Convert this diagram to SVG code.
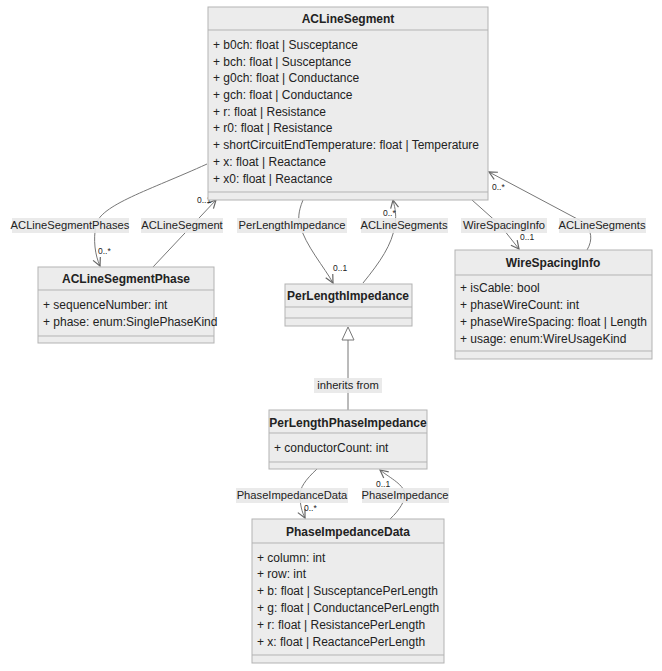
<svg xmlns="http://www.w3.org/2000/svg" width="662" height="671" viewBox="0 0 662 671">
<defs>
<style>
.box{fill:#ececec;stroke:#b3b3b3;stroke-width:1}
.div{stroke:#b3b3b3;stroke-width:1}
.title{font-family:"Liberation Sans",Arial,sans-serif;font-size:12px;font-weight:bold;fill:#222;text-anchor:middle}
.attr{font-family:"Liberation Sans",Arial,sans-serif;font-size:12px;fill:#222}
.edge{fill:none;stroke:#777;stroke-width:1}
.lbg{fill:#e8e8e8;opacity:0.9}
.lbl{font-family:"Liberation Sans",Arial,sans-serif;font-size:11.2px;fill:#222;text-anchor:middle}
.mult{font-family:"Liberation Sans",Arial,sans-serif;font-size:8.5px;fill:#222}
</style>
<marker id="arr" viewBox="0 0 10 10" refX="9" refY="5" markerWidth="10" markerHeight="10" markerUnits="userSpaceOnUse" orient="auto">
<path d="M1,1 L9,5 L1,9" fill="none" stroke="#666" stroke-width="1.2"/>
</marker>
</defs>
<rect width="662" height="671" fill="#ffffff"/>

<g id="connectors">
<path class="edge" d="M207,164 C150,190 100,205 96,225 C93,240 95,255 100,266" marker-end="url(#arr)"/>
<path class="edge" d="M153,267 L216,200" marker-end="url(#arr)"/>
<path class="edge" d="M303,200 C298,212 298,220 300,225 C305,245 325,268 333,283" marker-end="url(#arr)"/>
<path class="edge" d="M363,283 C380,262 392,245 395,225 C397,212 394,205 393,200" marker-end="url(#arr)"/>
<path class="edge" d="M472,200 L500,225 L519,249" marker-end="url(#arr)"/>
<path class="edge" d="M587,250 C593,240 592,230 583,222 L489,172" marker-end="url(#arr)"/>
<path class="edge" d="M348,410 L348,340"/>
<polygon points="348,327 342,340 354,340" fill="#ffffff" stroke="#777" stroke-width="1"/>
<path class="edge" d="M317,469 C305,480 300,488 300,495 C300,505 302,512 305,518" marker-end="url(#arr)"/>
<path class="edge" d="M390,519 C400,510 405,500 405,495 C405,485 390,478 380,470" marker-end="url(#arr)"/>

<rect class="lbg" x="12" y="218" width="117" height="15"/>
<text class="lbl" x="70" y="229">ACLineSegmentPhases</text>
<rect class="lbg" x="141" y="218" width="82" height="15"/>
<text class="lbl" x="182" y="229">ACLineSegment</text>
<rect class="lbg" x="237" y="218" width="110" height="15"/>
<text class="lbl" x="292" y="229">PerLengthImpedance</text>
<rect class="lbg" x="361" y="218" width="87" height="15"/>
<text class="lbl" x="404" y="229">ACLineSegments</text>
<rect class="lbg" x="461" y="218" width="86" height="15"/>
<text class="lbl" x="504" y="229">WireSpacingInfo</text>
<rect class="lbg" x="559" y="218" width="87" height="15"/>
<text class="lbl" x="602" y="229">ACLineSegments</text>
<rect class="lbg" x="314" y="378" width="68" height="15"/>
<text class="lbl" x="348" y="389">inherits from</text>
<rect class="lbg" x="236" y="488" width="112" height="15"/>
<text class="lbl" x="292" y="499">PhaseImpedanceData</text>
<rect class="lbg" x="362" y="488" width="87" height="15"/>
<text class="lbl" x="405" y="499">PhaseImpedance</text>

<text class="mult" x="197" y="203">0..1</text>
<text class="mult" x="98" y="254">0..*</text>
<text class="mult" x="333" y="271">0..1</text>
<text class="mult" x="383" y="216">0..*</text>
<text class="mult" x="520" y="240">0..1</text>
<text class="mult" x="492" y="190">0..*</text>
<text class="mult" x="304" y="511">0..*</text>
<text class="mult" x="376" y="487">0..1</text>
</g>

<g id="ACLineSegment">
<rect class="box" x="208" y="7" width="280" height="193"/>
<line class="div" x1="208" y1="30" x2="488" y2="30"/>
<line class="div" x1="208" y1="192" x2="488" y2="192"/>
<text class="title" x="348" y="23">ACLineSegment</text>
<text class="attr" x="213" y="49">+ b0ch: float | Susceptance</text>
<text class="attr" x="213" y="66">+ bch: float | Susceptance</text>
<text class="attr" x="213" y="82">+ g0ch: float | Conductance</text>
<text class="attr" x="213" y="99">+ gch: float | Conductance</text>
<text class="attr" x="213" y="116">+ r: float | Resistance</text>
<text class="attr" x="213" y="132">+ r0: float | Resistance</text>
<text class="attr" x="213" y="149">+ shortCircuitEndTemperature: float | Temperature</text>
<text class="attr" x="213" y="166">+ x: float | Reactance</text>
<text class="attr" x="213" y="183">+ x0: float | Reactance</text>
</g>

<g id="ACLineSegmentPhase">
<rect class="box" x="38" y="267" width="176" height="76"/>
<line class="div" x1="38" y1="290" x2="214" y2="290"/>
<line class="div" x1="38" y1="336" x2="214" y2="336"/>
<text class="title" x="126" y="283">ACLineSegmentPhase</text>
<text class="attr" x="43" y="309">+ sequenceNumber: int</text>
<text class="attr" x="43" y="326">+ phase: enum:SinglePhaseKind</text>
</g>

<g id="PerLengthImpedance">
<rect class="box" x="285" y="284" width="127" height="42"/>
<line class="div" x1="285" y1="307" x2="412" y2="307"/>
<line class="div" x1="285" y1="318" x2="412" y2="318"/>
<text class="title" x="348" y="300">PerLengthImpedance</text>
</g>

<g id="WireSpacingInfo">
<rect class="box" x="455" y="250" width="197" height="109"/>
<line class="div" x1="455" y1="275" x2="652" y2="275"/>
<line class="div" x1="455" y1="351" x2="652" y2="351"/>
<text class="title" x="553" y="267">WireSpacingInfo</text>
<text class="attr" x="460" y="292">+ isCable: bool</text>
<text class="attr" x="460" y="309">+ phaseWireCount: int</text>
<text class="attr" x="460" y="326">+ phaseWireSpacing: float | Length</text>
<text class="attr" x="460" y="343">+ usage: enum:WireUsageKind</text>
</g>

<g id="PerLengthPhaseImpedance">
<rect class="box" x="269" y="410" width="158" height="59"/>
<line class="div" x1="269" y1="433" x2="427" y2="433"/>
<line class="div" x1="269" y1="462" x2="427" y2="462"/>
<text class="title" x="348" y="427">PerLengthPhaseImpedance</text>
<text class="attr" x="274" y="452">+ conductorCount: int</text>
</g>

<g id="PhaseImpedanceData">
<rect class="box" x="252" y="519" width="192" height="144"/>
<line class="div" x1="252" y1="543" x2="444" y2="543"/>
<line class="div" x1="252" y1="655" x2="444" y2="655"/>
<text class="title" x="348" y="536">PhaseImpedanceData</text>
<text class="attr" x="257" y="562">+ column: int</text>
<text class="attr" x="257" y="578">+ row: int</text>
<text class="attr" x="257" y="595">+ b: float | SusceptancePerLength</text>
<text class="attr" x="257" y="612">+ g: float | ConductancePerLength</text>
<text class="attr" x="257" y="629">+ r: float | ResistancePerLength</text>
<text class="attr" x="257" y="646">+ x: float | ReactancePerLength</text>
</g>
</svg>
